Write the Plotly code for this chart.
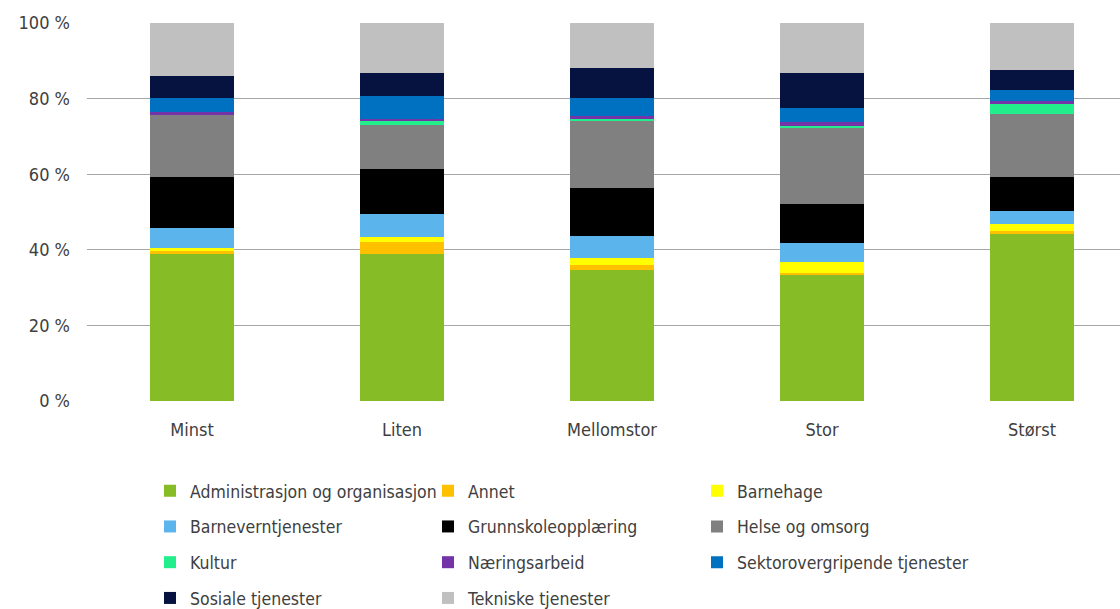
import plotly.graph_objects as go

# Kommunegrupper etter størrelse
categories = ["Minst", "Liten", "Mellomstor", "Stor", "Størst"]

# Andel (%) per tjenesteområde i hver kommunegruppe
admin = [39.0, 38.9, 34.7, 33.3, 44.2]
annet = [0.8, 3.2, 1.3, 0.6, 0.9]
barnehage = [0.8, 1.4, 1.8, 2.8, 1.6]
barnevern = [5.3, 6.1, 5.9, 5.2, 3.6]
grunnskole = [13.3, 11.8, 12.6, 10.2, 9.0]
helse = [16.5, 11.6, 18.0, 20.0, 16.6]
kultur = [0.0, 1.1, 0.3, 0.7, 2.8]
naering = [0.8, 0.4, 0.9, 1.1, 0.7]
sektor = [3.6, 6.2, 4.6, 3.5, 2.9]
sosiale = [5.9, 6.2, 7.9, 9.5, 5.3]
tekniske = [14.0, 13.1, 12.0, 13.1, 12.4]

y_ticks = [0, 20, 40, 60, 80, 100]
y_tick_labels = ["0 %", "20 %", "40 %", "60 %", "80 %", "100 %"]

series = [
    ("Administrasjon og organisasjon", admin, "#86bc25", "legend"),
    ("Annet", annet, "#ffc000", "legend2"),
    ("Barnehage", barnehage, "#ffff00", "legend3"),
    ("Barneverntjenester", barnevern, "#5bb4ec", "legend"),
    ("Grunnskoleopplæring", grunnskole, "#000000", "legend2"),
    ("Helse og omsorg", helse, "#808080", "legend3"),
    ("Kultur", kultur, "#22ee8c", "legend"),
    ("Næringsarbeid", naering, "#7434a8", "legend2"),
    ("Sektorovergripende tjenester", sektor, "#0070c0", "legend3"),
    ("Sosiale tjenester", sosiale, "#06123f", "legend"),
    ("Tekniske tjenester", tekniske, "#c0c0c0", "legend2"),
]

FONT = "DejaVu Sans Condensed, Liberation Sans, sans-serif"
TXT = "#404040"
FS = 18
LEG_FS = 17.5

fig = go.Figure()
for name, vals, color, leg in series:
    fig.add_trace(go.Bar(
        x=list(range(len(categories))), y=vals, name=name,
        marker=dict(color=color, line=dict(width=0)),
        width=0.4, legend=leg, legendgroup=name,
    ))

plot_left, plot_w = 87, 1120 - 87


def px_x(p):
    return (p - plot_left) / plot_w


def legend_cfg(xpix):
    return dict(
        x=px_x(xpix), y=-0.19, xanchor="left", yanchor="top",
        orientation="v", tracegroupgap=10, itemwidth=30,
        font=dict(family=FONT, size=LEG_FS, color=TXT),
        bgcolor="rgba(0,0,0,0)",
    )


fig.update_layout(
    width=1120, height=609,
    margin=dict(l=plot_left, r=0, t=23, b=208, autoexpand=False),
    barmode="stack",
    plot_bgcolor="white", paper_bgcolor="white",
    font=dict(family=FONT, size=FS, color=TXT),
    xaxis=dict(
        tickmode="array", tickvals=list(range(len(categories))),
        ticktext=categories, range=[-0.5, -0.5 + plot_w / 210],
        showgrid=False, zeroline=False, showline=False,
        ticklabelstandoff=16,
        tickfont=dict(family=FONT, size=FS, color=TXT),
    ),
    yaxis=dict(
        range=[0, 100], tickmode="array", tickvals=y_ticks,
        ticktext=y_tick_labels,
        showgrid=True, gridcolor="#a6a6a6", gridwidth=1,
        zeroline=False, showline=False, ticklabelstandoff=16,
        tickfont=dict(family=FONT, size=FS, color=TXT),
    ),
    legend=legend_cfg(150),
    legend2=legend_cfg(428),
    legend3=legend_cfg(697),
)

fig.write_html("out.html")
